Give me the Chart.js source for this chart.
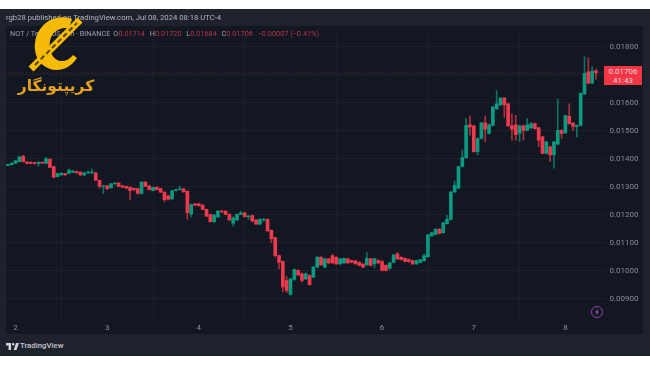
<!DOCTYPE html>
<html>
<head>
<meta charset="utf-8">
<script src="https://cdn.jsdelivr.net/npm/chart.js@4"></script>
<style>
  html, body { margin: 0; padding: 0; background: #fff; width: 650px; height: 365px; overflow: hidden; }
  body { font-family: Roboto, sans-serif; position: relative; }
  #frame { position: absolute; left: 0; top: 9px; width: 650px; height: 347px; background: #1e222d; }
  #pane { position: absolute; left: 6px; top: 26px; width: 637px; height: 308px; background: #131722; }
  #chartBox { position: absolute; left: 6px; top: 20px; width: 637px; height: 314px; filter: blur(0.35px); }
  #published { position: absolute; left: 6px; top: 13px; font-size: 7.7px; line-height: 10px; color: #b2b5be; white-space: nowrap; }
  #ohlc { position: absolute; left: 10px; top: 29px; font-size: 7.3px; line-height: 10px; color: #9ea2ad; white-space: nowrap; }
  #ohlc b { font-weight: 400; color: #b8344a; }
  #ohlc span { margin-left: 3px; }
  #priceTag { position: absolute; left: 604px; top: 66px; width: 38px; height: 19px; background: #f23645; color: #f5d5d9;
    font-size: 8px; line-height: 9.2px; text-align: center; padding-top: 0.5px; box-sizing: border-box; }
  #brand { position: absolute; left: 20px; top: 341px; font-size: 7.8px; line-height: 10px; font-weight: 500; color: #c3c6cf; }
  #logoText { position: absolute; left: 12px; top: 74px; width: 88px; text-align: center; direction: rtl;
    font-family: "DejaVu Sans", sans-serif; font-weight: 700; font-size: 15.5px; line-height: 24px; color: #e5a21a; white-space: nowrap; }
  svg { position: absolute; }
</style>
</head>
<body>
<div id="frame"></div>
<div id="pane"></div>
<div id="chartBox"><canvas id="myChart"></canvas></div>
<div id="published">rgb28 published on TradingView.com, Jul 08, 2024 08:18 UTC-4</div>
<div id="ohlc">NOT / TetherUS · 1h · BINANCE<span>O<b>0.01714</b></span> <span>H<b>0.01720</b></span> <span>L<b>0.01684</b></span> <span>C<b>0.01706</b></span> <span><b>−0.00007 (−0.41%)</b></span></div>
<div id="priceTag">0.01706<br>41:43</div>

<!-- watermark logo -->
<svg style="left:0;top:0" width="110" height="85" viewBox="0 0 110 85">
  <path d="M72 19 C52 12 33 28 35 50 C37 70 63 79 77 58 L73 55 C64 66 52 61 50 49 C48 35 56 27 69 28 Z" fill="#f5bb08"/>
  <line x1="31" y1="69" x2="80" y2="20" stroke="#f5bb08" stroke-width="7"/>
  <line x1="35" y1="65" x2="77" y2="23" stroke="#5a4512" stroke-width="2" stroke-dasharray="5 3"/>
</svg>
<div id="logoText">کریپتونگار</div>

<!-- bolt marker -->
<svg style="left:590px;top:305px" width="14" height="14" viewBox="0 0 14 14">
  <circle cx="7" cy="7" r="5.5" fill="none" stroke="#9c3fb5" stroke-width="1"/>
  <path d="M8 3.5 L5 7.6 H6.8 L6 10.5 L9 6.4 H7.2 Z" fill="#8a6a9a"/>
</svg>

<!-- TradingView mark -->
<svg style="left:6px;top:342px" width="13" height="9" viewBox="0 0 36 24">
  <path d="M14 2H0v7h7v13h7V2zm15 20h-8l7-20h8l-7 20zM20 9a3.5 3.5 0 100-7 3.5 3.5 0 000 7z" fill="#d1d4dc"/>
</svg>
<div id="brand">TradingView</div>

<script>
// Hourly NOT/USDT candles
const opens = [
  0.01376, 0.01379, 0.01384, 0.01389, 0.01409, 0.01388, 0.01387, 0.01386, 0.01383, 0.01387,
  0.01383, 0.01398, 0.01372, 0.01336, 0.01342, 0.01347, 0.01347, 0.01352, 0.01354, 0.01352,
  0.01342, 0.01349, 0.01349, 0.01349, 0.01323, 0.01301, 0.01303, 0.01296, 0.01310, 0.01313,
  0.01303, 0.01301, 0.01298, 0.01294, 0.01293, 0.01276, 0.01316, 0.01303, 0.01286, 0.01298,
  0.01293, 0.01281, 0.01266, 0.01256, 0.01286, 0.01289, 0.01292, 0.01283, 0.01203, 0.01239,
  0.01239, 0.01234, 0.01219, 0.01201, 0.01175, 0.01192, 0.01213, 0.01213, 0.01201, 0.01170,
  0.01181, 0.01201, 0.01207, 0.01193, 0.01197, 0.01181, 0.01166, 0.01181, 0.01183, 0.01144,
  0.01118, 0.01054, 0.01033, 0.00965, 0.00915, 0.00969, 0.01001, 0.00989, 0.00971, 0.00983,
  0.00977, 0.01013, 0.01048, 0.01013, 0.01042, 0.01054, 0.01048, 0.01024, 0.01028, 0.01042,
  0.01036, 0.01035, 0.01030, 0.01024, 0.01021, 0.01042, 0.01024, 0.01036, 0.01033, 0.01019,
  0.01009, 0.01030, 0.01060, 0.01048, 0.01044, 0.01040, 0.01036, 0.01024, 0.01030, 0.01036,
  0.01050, 0.01124, 0.01130, 0.01148, 0.01136, 0.01168, 0.01183, 0.01281, 0.01295, 0.01372,
  0.01404, 0.01521, 0.01517, 0.01425, 0.01472, 0.01528, 0.01490, 0.01519, 0.01578, 0.01592,
  0.01616, 0.01596, 0.01517, 0.01521, 0.01490, 0.01517, 0.01501, 0.01510, 0.01525, 0.01510,
  0.01478, 0.01419, 0.01442, 0.01413, 0.01452, 0.01501, 0.01492, 0.01551, 0.01527, 0.01515,
  0.01519, 0.01631, 0.01710, 0.01670, 0.01714
];
const closes = [
  0.01380, 0.01384, 0.01392, 0.01406, 0.01389, 0.01383, 0.01383, 0.01383, 0.01388, 0.01384,
  0.01399, 0.01369, 0.01334, 0.01347, 0.01348, 0.01342, 0.01359, 0.01356, 0.01349, 0.01342,
  0.01349, 0.01352, 0.01352, 0.01323, 0.01301, 0.01303, 0.01293, 0.01310, 0.01313, 0.01301,
  0.01298, 0.01295, 0.01286, 0.01290, 0.01276, 0.01316, 0.01301, 0.01289, 0.01298, 0.01289,
  0.01280, 0.01254, 0.01255, 0.01286, 0.01289, 0.01292, 0.01281, 0.01207, 0.01236, 0.01234,
  0.01232, 0.01219, 0.01195, 0.01175, 0.01199, 0.01213, 0.01210, 0.01201, 0.01181, 0.01189,
  0.01201, 0.01207, 0.01193, 0.01195, 0.01177, 0.01166, 0.01183, 0.01183, 0.01142, 0.01114,
  0.01054, 0.01030, 0.00942, 0.00930, 0.00971, 0.01004, 0.00985, 0.00965, 0.00989, 0.00950,
  0.01013, 0.01048, 0.01021, 0.01042, 0.01028, 0.01028, 0.01024, 0.01042, 0.01044, 0.01028,
  0.01030, 0.01024, 0.01019, 0.01013, 0.01044, 0.01019, 0.01042, 0.01028, 0.01001, 0.01001,
  0.01028, 0.01056, 0.01042, 0.01040, 0.01033, 0.01033, 0.01024, 0.01036, 0.01039, 0.01054,
  0.01128, 0.01136, 0.01148, 0.01133, 0.01171, 0.01183, 0.01281, 0.01305, 0.01372, 0.01404,
  0.01519, 0.01513, 0.01425, 0.01472, 0.01528, 0.01505, 0.01521, 0.01584, 0.01596, 0.01616,
  0.01592, 0.01517, 0.01505, 0.01486, 0.01517, 0.01501, 0.01521, 0.01525, 0.01507, 0.01466,
  0.01419, 0.01460, 0.01413, 0.01460, 0.01501, 0.01490, 0.01554, 0.01525, 0.01515, 0.01519,
  0.01633, 0.01705, 0.01670, 0.01713, 0.01706
];
const highs = [
  0.01381, 0.01385, 0.01394, 0.01410, 0.01412, 0.01390, 0.01389, 0.01388, 0.01389, 0.01389,
  0.01405, 0.01399, 0.01373, 0.01349, 0.01350, 0.01348, 0.01363, 0.01358, 0.01356, 0.01353,
  0.01352, 0.01356, 0.01363, 0.01352, 0.01324, 0.01305, 0.01305, 0.01312, 0.01315, 0.01315,
  0.01305, 0.01302, 0.01299, 0.01295, 0.01295, 0.01318, 0.01318, 0.01304, 0.01299, 0.01300,
  0.01294, 0.01282, 0.01270, 0.01287, 0.01291, 0.01302, 0.01294, 0.01285, 0.01239, 0.01241,
  0.01240, 0.01236, 0.01220, 0.01202, 0.01201, 0.01216, 0.01215, 0.01215, 0.01203, 0.01192,
  0.01203, 0.01213, 0.01209, 0.01199, 0.01199, 0.01183, 0.01185, 0.01187, 0.01185, 0.01146,
  0.01120, 0.01056, 0.01035, 0.00980, 0.00973, 0.01007, 0.01003, 0.00992, 0.00992, 0.00985,
  0.01015, 0.01050, 0.01050, 0.01044, 0.01044, 0.01058, 0.01050, 0.01044, 0.01046, 0.01044,
  0.01038, 0.01037, 0.01032, 0.01026, 0.01065, 0.01044, 0.01044, 0.01040, 0.01036, 0.01021,
  0.01030, 0.01058, 0.01065, 0.01050, 0.01046, 0.01042, 0.01038, 0.01038, 0.01041, 0.01060,
  0.01130, 0.01138, 0.01150, 0.01150, 0.01173, 0.01198, 0.01283, 0.01320, 0.01374, 0.01431,
  0.01543, 0.01552, 0.01519, 0.01474, 0.01530, 0.01552, 0.01524, 0.01587, 0.01643, 0.01618,
  0.01618, 0.01598, 0.01560, 0.01555, 0.01520, 0.01519, 0.01543, 0.01530, 0.01528, 0.01512,
  0.01480, 0.01462, 0.01445, 0.01462, 0.01613, 0.01503, 0.01556, 0.01596, 0.01529, 0.01521,
  0.01635, 0.01764, 0.01760, 0.01729, 0.01720
];
const lows = [
  0.01375, 0.01378, 0.01383, 0.01388, 0.01388, 0.01381, 0.01381, 0.01380, 0.01372, 0.01383,
  0.01382, 0.01368, 0.01331, 0.01335, 0.01341, 0.01340, 0.01346, 0.01350, 0.01348, 0.01340,
  0.01339, 0.01348, 0.01347, 0.01322, 0.01295, 0.01275, 0.01290, 0.01295, 0.01309, 0.01300,
  0.01297, 0.01294, 0.01254, 0.01285, 0.01273, 0.01272, 0.01300, 0.01288, 0.01285, 0.01288,
  0.01279, 0.01246, 0.01252, 0.01254, 0.01285, 0.01288, 0.01280, 0.01183, 0.01192, 0.01232,
  0.01230, 0.01217, 0.01193, 0.01173, 0.01172, 0.01190, 0.01208, 0.01200, 0.01179, 0.01160,
  0.01179, 0.01200, 0.01192, 0.01183, 0.01176, 0.01165, 0.01164, 0.01176, 0.01141, 0.01100,
  0.01048, 0.01007, 0.00924, 0.00922, 0.00913, 0.00965, 0.00983, 0.00960, 0.00968, 0.00948,
  0.00975, 0.01012, 0.01019, 0.01011, 0.01026, 0.01027, 0.01022, 0.01022, 0.01026, 0.01026,
  0.01028, 0.01023, 0.01018, 0.01011, 0.01019, 0.01017, 0.01010, 0.01026, 0.00999, 0.00999,
  0.01005, 0.01028, 0.01040, 0.01038, 0.01031, 0.01030, 0.01022, 0.01022, 0.01028, 0.01034,
  0.01048, 0.01122, 0.01128, 0.01131, 0.01134, 0.01166, 0.01180, 0.01279, 0.01293, 0.01370,
  0.01402, 0.01484, 0.01423, 0.01413, 0.01470, 0.01460, 0.01488, 0.01517, 0.01576, 0.01590,
  0.01548, 0.01515, 0.01466, 0.01466, 0.01462, 0.01466, 0.01499, 0.01508, 0.01505, 0.01442,
  0.01417, 0.01417, 0.01389, 0.01366, 0.01450, 0.01472, 0.01490, 0.01523, 0.01501, 0.01478,
  0.01517, 0.01629, 0.01668, 0.01668, 0.01684
];

const lastPrice = 0.01706;
const yTicks = [0.009, 0.010, 0.011, 0.012, 0.013, 0.014, 0.015, 0.016, 0.017, 0.018];
const dayLabels = ['2', '3', '4', '5', '6', '7', '8'];
const candlesPerDay = 24;
const firstDayIndex = 2;

// two empty hours on the right, like the chart's blank space before the axis
const categories = [...opens.map((_, i) => i), 155, 156];

const bullColor = '#0a9a80';
const bearColor = '#ee3a4c';
const candleColor = (ctx) => closes[ctx.dataIndex] >= opens[ctx.dataIndex] ? bullColor : bearColor;
const wickColor = (ctx) => candleColor(ctx) + 'b0';

new Chart(document.getElementById('myChart'), {
  data: {
    labels: categories,
    datasets: [
      {
        type: 'line',
        data: categories.map(() => lastPrice),
        borderColor: 'rgba(242, 54, 69, 0.38)',
        borderWidth: 1,
        borderDash: [1, 2],
        pointRadius: 0,
        order: 3
      },
      {
        type: 'bar',
        data: lows.map((low, i) => [low, highs[i]]),
        backgroundColor: wickColor,
        barThickness: 1,
        grouped: false,
        order: 2
      },
      {
        type: 'bar',
        data: opens.map((open, i) => [open, closes[i]]),
        backgroundColor: candleColor,
        barThickness: 3,
        grouped: false,
        order: 1
      }
    ]
  },
  options: {
    responsive: true,
    maintainAspectRatio: false,
    animation: false,
    layout: { padding: 0 },
    plugins: { legend: { display: false }, tooltip: { enabled: false } },
    scales: {
      x: {
        type: 'category',
        offset: true,
        grid: { color: 'rgba(240, 243, 250, 0.03)', drawTicks: false },
        border: { display: false },
        afterFit(scale) { scale.height = 14; },
        ticks: {
          autoSkip: false,
          maxRotation: 0,
          padding: 3,
          color: '#8a8d96',
          font: { family: 'Roboto', size: 8 },
          callback(value, index) {
            if (index < firstDayIndex || (index - firstDayIndex) % candlesPerDay !== 0) return null;
            return dayLabels[(index - firstDayIndex) / candlesPerDay];
          }
        }
      },
      y: {
        position: 'right',
        min: 0.00824,
        max: 0.018637,
        grid: { color: 'rgba(240, 243, 250, 0.04)', drawTicks: false },
        border: { display: false },
        afterBuildTicks(scale) { scale.ticks = yTicks.map(value => ({ value })); },
        afterFit(scale) { scale.width = 37.5; },
        ticks: {
          padding: 4,
          color: '#8a8d96',
          font: { family: 'Roboto', size: 8 },
          callback: value => value.toFixed(5)
        }
      }
    }
  }
});
</script>
</body>
</html>
